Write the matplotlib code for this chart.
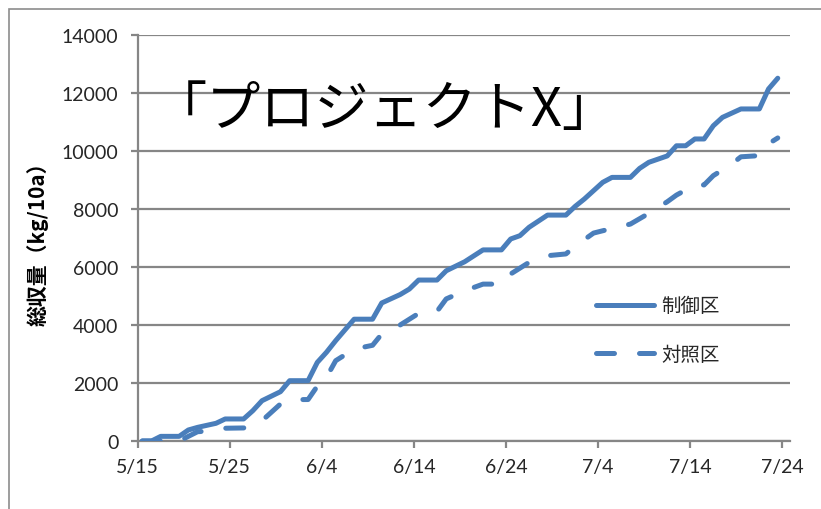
import matplotlib
matplotlib.use("Agg")
import matplotlib.pyplot as plt
from matplotlib.patches import Rectangle

# Cumulative yield, days counted from 5/15
days_ctrl = [0, 1, 2, 4, 5, 6, 8, 9, 11, 12, 13, 15, 16, 18, 19, 20, 21, 23, 25, 26,
             28, 29, 30, 32, 33, 35, 37, 39, 40, 41, 42, 44, 46, 47, 48, 50, 51, 53, 54, 55,
             57, 58, 59, 60, 61, 62, 63, 65, 67, 68, 69]
yield_ctrl = [0, 0, 160, 160, 380, 470, 610, 760, 760, 1045, 1390, 1700, 2080, 2080, 2710, 3060, 3460, 4200, 4200, 4760,
              5050, 5240, 5550, 5550, 5870, 6180, 6590, 6590, 6966, 7080, 7370, 7790, 7790, 8090, 8345, 8920, 9090, 9090, 9400, 9610,
              9830, 10180, 10180, 10415, 10415, 10870, 11160, 11450, 11450, 12140, 12510]

days_ref = [0, 4, 6, 8, 9, 11, 12, 13, 15, 16, 18, 19, 20, 21, 23, 25, 26, 28, 30, 32,
            33, 35, 37, 39, 40, 42, 44, 46, 47, 49, 51, 53, 55, 57, 58, 60, 61, 62, 64, 65,
            67, 68, 69]
yield_ref = [0, 0, 320, 360, 440, 450, 540, 700, 1275, 1425, 1430, 1890, 2195, 2770, 3170, 3300, 3690, 4000, 4400, 4470,
             4900, 5180, 5410, 5410, 5760, 6160, 6390, 6450, 6720, 7170, 7330, 7480, 7850, 8250, 8480, 8830, 8830, 9150, 9550, 9800,
             9840, 10250, 10450]

tick_days = [0, 10, 20, 30, 40, 50, 60, 70]
tick_labels = ["5/15", "5/25", "6/4", "6/14", "6/24", "7/4", "7/14", "7/24"]
y_ticks = [0, 2000, 4000, 6000, 8000, 10000, 12000, 14000]

series_labels = ["制御区", "対照区"]
title = "「プロジェクトX」"
y_label = "総収量（kg/10a）"

BLUE = "#4A7EBB"
GRAY = "#868686"
JP = ["Noto Sans CJK JP", "DejaVu Sans"]
NUM = ["Lato", "DejaVu Sans"]

fig = plt.figure(figsize=(8.21, 5.10), dpi=100)
ax = fig.add_axes([137.7 / 821, 1 - 442 / 510, (790 - 137.7) / 821, (442 - 36) / 510])

# points sit in the middle of each day slot
x_ctrl = [d + 0.5 for d in days_ctrl]
x_ref = [d + 0.5 for d in days_ref]

ax.plot(x_ctrl, yield_ctrl, color=BLUE, lw=3.6, solid_capstyle="round",
        solid_joinstyle="round", label=series_labels[0], zorder=3)
ax.plot(x_ref, yield_ref, color=BLUE, lw=3.6, dashes=(3.6, 5.0), dash_capstyle="round",
        dash_joinstyle="round", label=series_labels[1], zorder=3)

ax.set_xlim(0, 70.83)
ax.set_ylim(0, 14000)
ax.set_xticks(tick_days)
ax.set_xticklabels(tick_labels)
ax.set_yticks(y_ticks)
ax.set_yticklabels([str(v) for v in y_ticks])

ax.grid(axis="y", color=GRAY, lw=1.6, zorder=1)
ax.set_axisbelow(True)
for s in ["top", "right"]:
    ax.spines[s].set_visible(False)
for s in ["left", "bottom"]:
    ax.spines[s].set_color(GRAY)
    ax.spines[s].set_linewidth(1.6)
ax.tick_params(axis="both", colors=GRAY, width=1.6, length=5, labelcolor="#262626",
               labelsize=14)
ax.tick_params(axis="y", pad=9)
ax.tick_params(axis="x", pad=7)
for lbl in ax.get_xticklabels() + ax.get_yticklabels():
    lbl.set_family(NUM)

ax.set_ylabel(y_label, family=JP, fontsize=15, fontweight="bold")
ax.yaxis.set_label_coords(-0.136, 0.5)

fig.text(385 / 821, 1 - 111 / 510, title, family=JP, fontsize=39,
         ha="center", va="center", color="black")

leg = ax.legend(loc="upper left", bbox_to_anchor=(578 / 821, 1 - 279 / 510),
                bbox_transform=fig.transFigure, frameon=False,
                prop={"family": JP, "size": 14}, handlelength=3.0,
                handletextpad=0.4, labelspacing=1.4)
for t in leg.get_texts():
    t.set_color("#262626")

# outer frame of the chart area
fig.patches.append(Rectangle((9 / 821, -0.05), 1.2, 1 - 10 / 510 + 0.05,
                             transform=fig.transFigure, fill=False,
                             edgecolor="#8c8c8c", lw=1.2))

fig.savefig("out.png", dpi=100)
